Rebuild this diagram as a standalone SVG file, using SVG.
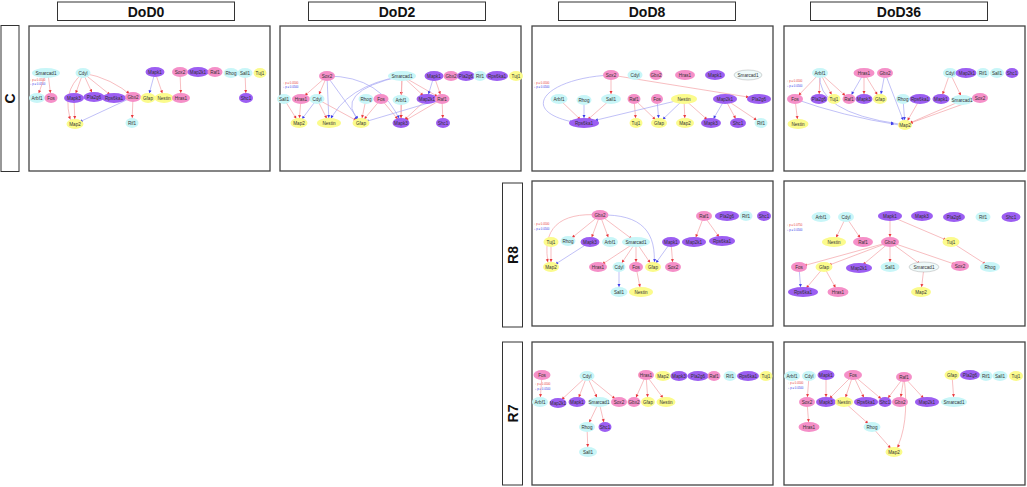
<svg xmlns="http://www.w3.org/2000/svg" width="1027" height="487" viewBox="0 0 1027 487">
<style>
.hb{fill:#fff;stroke:#333;stroke-width:1}
.ht{font-family:"Liberation Sans",Arial,sans-serif;font-weight:bold;font-size:14px;text-anchor:middle;fill:#111}
.pn{fill:#fff;stroke:#444;stroke-width:1.3}
.cy{fill:#c8f6f8}
.pk{fill:#f58fc8}
.pu{fill:#9c5ef2}
.ye{fill:#fbfb8c}
.lt{fill:#eefafa;stroke:#999;stroke-width:0.4}
text.n{font-family:"Liberation Sans",Arial,sans-serif;font-size:4.6px;text-anchor:middle;fill:#333}
.lg{font-family:"Liberation Sans",Arial,sans-serif;font-size:2.8px}
.up{stroke:#f4a2a6;stroke-width:0.7;fill:none;marker-end:url(#au)}
.dn{stroke:#a6a6f4;stroke-width:0.7;fill:none;marker-end:url(#ad)}
</style>
<defs>
<marker id="au" markerUnits="userSpaceOnUse" markerWidth="3" markerHeight="3" refX="8" refY="1.5" orient="auto" overflow="visible"><path d="M0,0L3,1.5L0,3z" fill="#e8363a"/></marker>
<marker id="ad" markerUnits="userSpaceOnUse" markerWidth="3" markerHeight="3" refX="8" refY="1.5" orient="auto" overflow="visible"><path d="M0,0L3,1.5L0,3z" fill="#3a3ae8"/></marker>
</defs>
<rect width="1027" height="487" fill="#fff"/>

<g id="headers">
<rect class="hb" x="57.5" y="2" width="177" height="18.5"/><text class="ht" x="146" y="16.5">DoD0</text>
<rect class="hb" x="308.5" y="2" width="177" height="18.5"/><text class="ht" x="397" y="16.5">DoD2</text>
<rect class="hb" x="558.5" y="2" width="177" height="18.5"/><text class="ht" x="647" y="16.5">DoD8</text>
<rect class="hb" x="810.5" y="2" width="177" height="18.5"/><text class="ht" x="899" y="16.5">DoD36</text>
<rect class="hb" x="1" y="25.5" width="18" height="146"/><text class="ht" transform="translate(15,98.5) rotate(-90)">C</text>
<rect class="hb" x="502.5" y="183" width="20" height="144"/><text class="ht" transform="translate(517.5,255) rotate(-90)">R8</text>
<rect class="hb" x="502.5" y="342" width="20" height="143"/><text class="ht" transform="translate(517.5,413.5) rotate(-90)">R7</text>
</g>

<g id="panels">
<rect class="pn" x="29" y="26" width="241" height="145"/>
<rect class="pn" x="280" y="26" width="241" height="145"/>
<rect class="pn" x="532" y="26" width="241" height="145"/>
<rect class="pn" x="784" y="26" width="241" height="145"/>
<rect class="pn" x="532" y="181" width="241" height="145"/>
<rect class="pn" x="784" y="181" width="241" height="145"/>
<rect class="pn" x="532" y="342" width="241" height="143"/>
<rect class="pn" x="784" y="342" width="241" height="143"/>
</g>

<g id="legends" class="lg">
<text x="30" y="81" fill="#e83a3a">↑ p ≤ 0.0500</text><text x="30" y="85" fill="#3a3ae8">↓ p ≤ 0.0500</text>
<text x="283" y="84" fill="#e83a3a">↑ p ≤ 0.0500</text><text x="283" y="88" fill="#3a3ae8">↓ p ≤ 0.0500</text>
<text x="534" y="84" fill="#e83a3a">↑ p ≤ 0.0500</text><text x="534" y="88" fill="#3a3ae8">↓ p ≤ 0.0500</text>
<text x="787" y="82" fill="#e83a3a">↑ p ≤ 0.0500</text><text x="787" y="87" fill="#3a3ae8">↓ p ≤ 0.0500</text>
<text x="534" y="225" fill="#e83a3a">↑ p ≤ 0.0500</text><text x="534" y="230" fill="#3a3ae8">↓ p ≤ 0.0500</text>
<text x="787" y="226" fill="#e83a3a">↑ p ≤ 0.0750</text><text x="787" y="231" fill="#3a3ae8">↓ p ≤ 0.0500</text>
<text x="535" y="385" fill="#e83a3a">↑ p ≤ 0.0500</text><text x="535" y="390" fill="#3a3ae8">↓ p ≤ 0.0500</text>
<text x="788" y="384" fill="#e83a3a">↑ p ≤ 0.0500</text><text x="788" y="389" fill="#3a3ae8">↓ p ≤ 0.0500</text>
</g>

<g id="connectors">
<g id="e-c-dod0">
<line class="up" x1="46" y1="73" x2="37" y2="98"/>
<line class="up" x1="48" y1="73" x2="51" y2="98"/>
<line class="up" x1="83" y1="73" x2="74" y2="98"/>
<line class="up" x1="83" y1="73" x2="94" y2="97"/>
<line class="up" x1="83" y1="73" x2="114" y2="98"/>
<path class="up" d="M83,73 Q112,78 133,97"/>
<path class="up" d="M83,73 Q60,92 72,124"/>
<line class="up" x1="74" y1="98" x2="75" y2="124"/>
<line class="dn" x1="133" y1="97" x2="75" y2="124"/>
<line class="up" x1="133" y1="97" x2="132" y2="123"/>
<line class="dn" x1="155" y1="72" x2="148" y2="98"/>
<line class="up" x1="155" y1="72" x2="164" y2="98"/>
<line class="up" x1="180" y1="72" x2="181" y2="98"/>
<line class="up" x1="245" y1="73" x2="246" y2="98"/>
</g>
<g id="e-c-dod2">
<line class="up" x1="327" y1="76" x2="301" y2="99"/>
<line class="up" x1="327" y1="76" x2="317" y2="99"/>
<line class="dn" x1="327" y1="76" x2="329" y2="123"/>
<line class="dn" x1="327" y1="76" x2="361" y2="123"/>
<path class="dn" d="M327,76 Q382,76 401,123"/>
<line class="up" x1="301" y1="99" x2="299" y2="123"/>
<line class="up" x1="284" y1="99" x2="299" y2="123"/>
<line class="dn" x1="317" y1="99" x2="299" y2="123"/>
<line class="up" x1="317" y1="99" x2="329" y2="123"/>
<line class="up" x1="317" y1="99" x2="361" y2="123"/>
<path class="dn" d="M402,76 Q345,86 329,123"/>
<path class="dn" d="M402,76 Q330,92 361,123"/>
<line class="up" x1="402" y1="76" x2="401" y2="100"/>
<line class="up" x1="402" y1="76" x2="427" y2="99"/>
<line class="up" x1="402" y1="76" x2="401" y2="123"/>
<line class="up" x1="402" y1="76" x2="442" y2="99"/>
<line class="dn" x1="434" y1="76" x2="427" y2="99"/>
<line class="up" x1="434" y1="76" x2="442" y2="99"/>
<line class="up" x1="366" y1="99" x2="361" y2="123"/>
<line class="up" x1="381" y1="99" x2="361" y2="123"/>
<line class="up" x1="381" y1="99" x2="401" y2="123"/>
<line class="up" x1="401" y1="100" x2="401" y2="123"/>
<line class="up" x1="427" y1="99" x2="401" y2="123"/>
<line class="up" x1="442" y1="99" x2="443" y2="123"/>
<line class="dn" x1="442" y1="99" x2="361" y2="123"/>
<line class="up" x1="442" y1="99" x2="401" y2="123"/>
</g>
<g id="e-c-dod8">
<line class="up" x1="611" y1="75" x2="611" y2="99"/>
<line class="up" x1="611" y1="75" x2="754" y2="98"/>
<path class="dn" d="M611,75 C545,78 515,112 578,123"/>
<line class="up" x1="559" y1="99" x2="584" y2="123"/>
<line class="dn" x1="584" y1="100" x2="584" y2="123"/>
<line class="up" x1="611" y1="99" x2="584" y2="123"/>
<line class="up" x1="634" y1="99" x2="636" y2="123"/>
<line class="up" x1="634" y1="99" x2="659" y2="123"/>
<line class="dn" x1="657" y1="99" x2="659" y2="123"/>
<line class="dn" x1="684" y1="99" x2="659" y2="123"/>
<line class="up" x1="684" y1="99" x2="685" y2="123"/>
<line class="up" x1="684" y1="99" x2="711" y2="123"/>
<line class="dn" x1="684" y1="99" x2="590" y2="121.6"/>
<line class="dn" x1="725" y1="99" x2="711" y2="123"/>
<line class="up" x1="725" y1="99" x2="738" y2="123"/>
<line class="up" x1="725" y1="99" x2="761" y2="123"/>
</g>
<g id="e-c-dod36">
<line class="up" x1="820" y1="73" x2="795" y2="99"/>
<line class="up" x1="820" y1="73" x2="819" y2="99"/>
<line class="up" x1="820" y1="73" x2="834" y2="99"/>
<line class="up" x1="820" y1="73" x2="849" y2="99"/>
<path class="dn" d="M820,73 Q815,112 899,124"/>
<path class="dn" d="M795,99 Q842,116 899,125"/>
<line class="dn" x1="864" y1="73" x2="849" y2="99"/>
<line class="up" x1="864" y1="73" x2="864" y2="99"/>
<line class="up" x1="864" y1="73" x2="880" y2="99"/>
<line class="dn" x1="885" y1="73" x2="880" y2="99"/>
<line class="dn" x1="885" y1="73" x2="905" y2="125"/>
<line class="up" x1="795" y1="99" x2="798" y2="124"/>
<line class="dn" x1="903" y1="99" x2="905" y2="125"/>
<line class="up" x1="920" y1="99" x2="905" y2="125"/>
<line class="up" x1="950" y1="73" x2="941" y2="99"/>
<line class="up" x1="950" y1="73" x2="963" y2="100"/>
<line class="up" x1="963" y1="100" x2="905" y2="125"/>
<line class="up" x1="980" y1="98" x2="905" y2="125"/>
</g>
<g id="e-r8-dod8">
<line class="up" x1="600" y1="215" x2="568" y2="241"/>
<line class="up" x1="600" y1="215" x2="590" y2="242"/>
<line class="up" x1="600" y1="215" x2="610" y2="242"/>
<line class="up" x1="600" y1="215" x2="636" y2="242"/>
<path class="up" d="M600,215 C560,212 540,228 549,267"/>
<path class="dn" d="M600,215 C642,214 657,232 654,267"/>
<line class="up" x1="551" y1="242" x2="551" y2="267"/>
<line class="dn" x1="590" y1="242" x2="551" y2="267"/>
<line class="up" x1="636" y1="242" x2="598" y2="267"/>
<line class="up" x1="636" y1="242" x2="619" y2="267"/>
<line class="up" x1="636" y1="242" x2="636" y2="267"/>
<line class="up" x1="636" y1="242" x2="653" y2="267"/>
<line class="dn" x1="619" y1="267" x2="619" y2="292"/>
<line class="up" x1="636" y1="267" x2="641" y2="292"/>
<line class="dn" x1="671" y1="242" x2="653" y2="267"/>
<line class="up" x1="671" y1="242" x2="673" y2="267"/>
<line class="up" x1="704" y1="216" x2="694" y2="242"/>
<line class="up" x1="704" y1="216" x2="722" y2="241"/>
</g>
<g id="e-r8-dod36">
<line class="up" x1="846" y1="217" x2="834" y2="242"/>
<line class="up" x1="846" y1="217" x2="863" y2="242"/>
<line class="up" x1="890" y1="216" x2="890" y2="242"/>
<line class="up" x1="890" y1="216" x2="951" y2="242"/>
<line class="up" x1="890" y1="242" x2="799" y2="267"/>
<line class="up" x1="890" y1="242" x2="824" y2="267"/>
<line class="up" x1="890" y1="242" x2="859" y2="268"/>
<line class="up" x1="890" y1="242" x2="890" y2="267"/>
<line class="up" x1="890" y1="242" x2="924" y2="267"/>
<line class="up" x1="890" y1="242" x2="960" y2="266"/>
<line class="up" x1="951" y1="242" x2="990" y2="267"/>
<line class="dn" x1="799" y1="267" x2="801" y2="292"/>
<line class="up" x1="824" y1="267" x2="803" y2="292"/>
<line class="up" x1="824" y1="267" x2="838" y2="292"/>
<line class="up" x1="924" y1="267" x2="921" y2="292"/>
</g>
<g id="e-r7-dod8">
<line class="up" x1="542" y1="375" x2="540" y2="402"/>
<line class="up" x1="587" y1="376" x2="558" y2="403"/>
<line class="up" x1="587" y1="376" x2="577" y2="402"/>
<line class="up" x1="587" y1="376" x2="599" y2="402"/>
<line class="up" x1="587" y1="376" x2="619" y2="402"/>
<line class="up" x1="646" y1="375" x2="634" y2="402"/>
<line class="up" x1="646" y1="375" x2="648" y2="402"/>
<line class="up" x1="646" y1="375" x2="666" y2="402"/>
<line class="up" x1="599" y1="402" x2="587" y2="427"/>
<line class="up" x1="599" y1="402" x2="605" y2="427"/>
<line class="up" x1="587" y1="427" x2="588" y2="452"/>
</g>
<g id="e-r7-dod36">
<line class="up" x1="809" y1="376" x2="807" y2="402"/>
<line class="up" x1="826" y1="375" x2="826" y2="402"/>
<line class="up" x1="853" y1="375" x2="826" y2="402"/>
<line class="up" x1="853" y1="375" x2="844" y2="402"/>
<line class="up" x1="853" y1="375" x2="866" y2="402"/>
<line class="up" x1="853" y1="375" x2="885" y2="402"/>
<line class="up" x1="904" y1="377" x2="885" y2="402"/>
<line class="up" x1="904" y1="377" x2="900" y2="402"/>
<line class="up" x1="904" y1="377" x2="927" y2="402"/>
<path class="up" d="M904,377 Q910,425 895,452"/>
<line class="up" x1="807" y1="402" x2="809" y2="427"/>
<line class="up" x1="844" y1="402" x2="872" y2="427"/>
<line class="up" x1="872" y1="427" x2="894" y2="452"/>
<line class="up" x1="952" y1="375" x2="954" y2="402"/>
</g>
</g>

<g id="nodes">
<g id="c-dod0">
<g id="c0-Smarcad1"><ellipse class="cy" cx="46" cy="73" rx="14" ry="5"/><text class="n" x="46" y="74.6">Smarcad1</text></g>
<g id="c0-Arbf1"><ellipse class="cy" cx="37" cy="98" rx="8" ry="5"/><text class="n" x="37" y="99.6">Arbf1</text></g>
<g id="c0-Fos"><ellipse class="pk" cx="51" cy="98" rx="6.5" ry="5"/><text class="n" x="51" y="99.6">Fos</text></g>
<g id="c0-Cdyl"><ellipse class="cy" cx="83" cy="73" rx="7.5" ry="5"/><text class="n" x="83" y="74.6">Cdyl</text></g>
<g id="c0-Mapk3"><ellipse class="pu" cx="74" cy="98" rx="10" ry="5"/><text class="n" x="74" y="99.6">Mapk3</text></g>
<g id="c0-Pla2g6"><ellipse class="pu" cx="94" cy="97" rx="10.5" ry="5"/><text class="n" x="94" y="98.6">Pla2g6</text></g>
<g id="c0-Rps6ka1"><ellipse class="pu" cx="114" cy="98" rx="12" ry="5"/><text class="n" x="114" y="99.6">Rps6ka1</text></g>
<g id="c0-Gbx2"><ellipse class="pk" cx="133" cy="97" rx="8" ry="5"/><text class="n" x="133" y="98.6">Gbx2</text></g>
<g id="c0-Gfap"><ellipse class="ye" cx="148" cy="98" rx="7.5" ry="5"/><text class="n" x="148" y="99.6">Gfap</text></g>
<g id="c0-Nestin"><ellipse class="ye" cx="164" cy="98" rx="9.5" ry="5"/><text class="n" x="164" y="99.6">Nestin</text></g>
<g id="c0-Mapk1"><ellipse class="pu" cx="155" cy="72" rx="9.5" ry="5"/><text class="n" x="155" y="73.6">Mapk1</text></g>
<g id="c0-Sox2"><ellipse class="pk" cx="180" cy="72" rx="8" ry="5"/><text class="n" x="180" y="73.6">Sox2</text></g>
<g id="c0-Map2k1"><ellipse class="pu" cx="198" cy="72" rx="10.5" ry="5"/><text class="n" x="198" y="73.6">Map2k1</text></g>
<g id="c0-Raf1"><ellipse class="pk" cx="215" cy="72" rx="7.5" ry="5"/><text class="n" x="215" y="73.6">Raf1</text></g>
<g id="c0-Rhog"><ellipse class="cy" cx="231" cy="73" rx="7.5" ry="5"/><text class="n" x="231" y="74.6">Rhog</text></g>
<g id="c0-Sall1"><ellipse class="cy" cx="245" cy="73" rx="7.5" ry="5"/><text class="n" x="245" y="74.6">Sall1</text></g>
<g id="c0-Tuj1"><ellipse class="ye" cx="260" cy="73" rx="6.5" ry="5"/><text class="n" x="260" y="74.6">Tuj1</text></g>
<g id="c0-Hras1"><ellipse class="pk" cx="181" cy="98" rx="9" ry="5"/><text class="n" x="181" y="99.6">Hras1</text></g>
<g id="c0-Shc1"><ellipse class="pu" cx="246" cy="98" rx="7" ry="5"/><text class="n" x="246" y="99.6">Shc1</text></g>
<g id="c0-Map2"><ellipse class="ye" cx="75" cy="124" rx="8.5" ry="5"/><text class="n" x="75" y="125.6">Map2</text></g>
<g id="c0-Rif1"><ellipse class="cy" cx="132" cy="123" rx="6.5" ry="5"/><text class="n" x="132" y="124.6">Rif1</text></g>
</g>

<g id="c-dod2">
<g id="c2-Sox2"><ellipse class="pk" cx="327" cy="76" rx="8" ry="5"/><text class="n" x="327" y="77.6">Sox2</text></g>
<g id="c2-Smarcad1"><ellipse class="cy" cx="402" cy="76" rx="14" ry="5"/><text class="n" x="402" y="77.6">Smarcad1</text></g>
<g id="c2-Mapk1"><ellipse class="pu" cx="434" cy="76" rx="9.5" ry="5"/><text class="n" x="434" y="77.6">Mapk1</text></g>
<g id="c2-Gbx2"><ellipse class="pk" cx="451" cy="76" rx="7.5" ry="5"/><text class="n" x="451" y="77.6">Gbx2</text></g>
<g id="c2-Pla2g6"><ellipse class="pu" cx="466" cy="76" rx="9" ry="5"/><text class="n" x="466" y="77.6">Pla2g6</text></g>
<g id="c2-Rif1"><ellipse class="cy" cx="480" cy="76" rx="6.5" ry="5"/><text class="n" x="480" y="77.6">Rif1</text></g>
<g id="c2-Rps6ka1"><ellipse class="pu" cx="497" cy="76" rx="11" ry="5"/><text class="n" x="497" y="77.6">Rps6ka1</text></g>
<g id="c2-Tuj1"><ellipse class="ye" cx="516" cy="76" rx="7" ry="5"/><text class="n" x="516" y="77.6">Tuj1</text></g>
<g id="c2-Sall1"><ellipse class="cy" cx="284" cy="99" rx="7" ry="5"/><text class="n" x="284" y="100.6">Sall1</text></g>
<g id="c2-Hras1"><ellipse class="pk" cx="301" cy="99" rx="9" ry="5"/><text class="n" x="301" y="100.6">Hras1</text></g>
<g id="c2-Cdyl"><ellipse class="cy" cx="317" cy="99" rx="7.5" ry="5"/><text class="n" x="317" y="100.6">Cdyl</text></g>
<g id="c2-Rhog"><ellipse class="cy" cx="366" cy="99" rx="7.5" ry="5"/><text class="n" x="366" y="100.6">Rhog</text></g>
<g id="c2-Fos"><ellipse class="pk" cx="381" cy="99" rx="7.5" ry="5"/><text class="n" x="381" y="100.6">Fos</text></g>
<g id="c2-Arbf1"><ellipse class="cy" cx="401" cy="100" rx="8.5" ry="5"/><text class="n" x="401" y="101.6">Arbf1</text></g>
<g id="c2-Map2k1"><ellipse class="pu" cx="427" cy="99" rx="10.5" ry="5"/><text class="n" x="427" y="100.6">Map2k1</text></g>
<g id="c2-Raf1"><ellipse class="pk" cx="442" cy="99" rx="7.5" ry="5"/><text class="n" x="442" y="100.6">Raf1</text></g>
<g id="c2-Map2"><ellipse class="ye" cx="299" cy="123" rx="8.5" ry="5"/><text class="n" x="299" y="124.6">Map2</text></g>
<g id="c2-Nestin"><ellipse class="ye" cx="329" cy="123" rx="12" ry="5"/><text class="n" x="329" y="124.6">Nestin</text></g>
<g id="c2-Gfap"><ellipse class="ye" cx="361" cy="123" rx="8.5" ry="5"/><text class="n" x="361" y="124.6">Gfap</text></g>
<g id="c2-Mapk3"><ellipse class="pu" cx="401" cy="123" rx="8.5" ry="5"/><text class="n" x="401" y="124.6">Mapk3</text></g>
<g id="c2-Shc1"><ellipse class="pu" cx="443" cy="123" rx="7" ry="5"/><text class="n" x="443" y="124.6">Shc1</text></g>
</g>

<g id="c-dod8">
<g id="c8-Sox2"><ellipse class="pk" cx="611" cy="75" rx="8" ry="5"/><text class="n" x="611" y="76.6">Sox2</text></g>
<g id="c8-Cdyl"><ellipse class="cy" cx="635" cy="75" rx="7.5" ry="5"/><text class="n" x="635" y="76.6">Cdyl</text></g>
<g id="c8-Gbx2"><ellipse class="pk" cx="656" cy="75" rx="6.5" ry="5"/><text class="n" x="656" y="76.6">Gbx2</text></g>
<g id="c8-Hras1"><ellipse class="pk" cx="685" cy="75" rx="10" ry="5"/><text class="n" x="685" y="76.6">Hras1</text></g>
<g id="c8-Mapk1"><ellipse class="pu" cx="715" cy="75" rx="10" ry="5"/><text class="n" x="715" y="76.6">Mapk1</text></g>
<g id="c8-Smarcad1"><ellipse class="lt" cx="748" cy="75" rx="14" ry="5"/><text class="n" x="748" y="76.6">Smarcad1</text></g>
<g id="c8-Arbf1"><ellipse class="cy" cx="559" cy="99" rx="8.5" ry="5"/><text class="n" x="559" y="100.6">Arbf1</text></g>
<g id="c8-Rhog"><ellipse class="cy" cx="584" cy="100" rx="7.5" ry="5"/><text class="n" x="584" y="101.6">Rhog</text></g>
<g id="c8-Sall1"><ellipse class="cy" cx="611" cy="99" rx="10" ry="5"/><text class="n" x="611" y="100.6">Sall1</text></g>
<g id="c8-Raf1"><ellipse class="pk" cx="634" cy="99" rx="6.5" ry="5"/><text class="n" x="634" y="100.6">Raf1</text></g>
<g id="c8-Fos"><ellipse class="pk" cx="657" cy="99" rx="6" ry="5"/><text class="n" x="657" y="100.6">Fos</text></g>
<g id="c8-Nestin"><ellipse class="ye" cx="684" cy="99" rx="13" ry="5"/><text class="n" x="684" y="100.6">Nestin</text></g>
<g id="c8-Map2k1"><ellipse class="pu" cx="725" cy="99" rx="12" ry="5"/><text class="n" x="725" y="100.6">Map2k1</text></g>
<g id="c8-Pla2g6"><ellipse class="pu" cx="759" cy="99" rx="12" ry="5"/><text class="n" x="759" y="100.6">Pla2g6</text></g>
<g id="c8-Rps6ka1"><ellipse class="pu" cx="584" cy="123" rx="15" ry="5"/><text class="n" x="584" y="124.6">Rps6ka1</text></g>
<g id="c8-Tuj1"><ellipse class="ye" cx="636" cy="123" rx="6.5" ry="5"/><text class="n" x="636" y="124.6">Tuj1</text></g>
<g id="c8-Gfap"><ellipse class="ye" cx="659" cy="123" rx="8" ry="5"/><text class="n" x="659" y="124.6">Gfap</text></g>
<g id="c8-Map2"><ellipse class="ye" cx="685" cy="123" rx="9" ry="5"/><text class="n" x="685" y="124.6">Map2</text></g>
<g id="c8-Mapk3"><ellipse class="pu" cx="711" cy="123" rx="10" ry="5"/><text class="n" x="711" y="124.6">Mapk3</text></g>
<g id="c8-Shc1"><ellipse class="pu" cx="738" cy="123" rx="8" ry="5"/><text class="n" x="738" y="124.6">Shc1</text></g>
<g id="c8-Rif1"><ellipse class="cy" cx="761" cy="123" rx="6.5" ry="5"/><text class="n" x="761" y="124.6">Rif1</text></g>
</g>

<g id="c-dod36">
<g id="c36-Arbf1"><ellipse class="cy" cx="820" cy="73" rx="8" ry="5"/><text class="n" x="820" y="74.6">Arbf1</text></g>
<g id="c36-Hras1"><ellipse class="pk" cx="864" cy="73" rx="10.5" ry="5"/><text class="n" x="864" y="74.6">Hras1</text></g>
<g id="c36-Gbx2"><ellipse class="pk" cx="885" cy="73" rx="8" ry="5"/><text class="n" x="885" y="74.6">Gbx2</text></g>
<g id="c36-Cdyl"><ellipse class="cy" cx="950" cy="73" rx="7" ry="5"/><text class="n" x="950" y="74.6">Cdyl</text></g>
<g id="c36-Map2k1"><ellipse class="pu" cx="966" cy="73" rx="10.5" ry="5"/><text class="n" x="967" y="74.6">Map2k1</text></g>
<g id="c36-Rif1"><ellipse class="cy" cx="983" cy="73" rx="6.5" ry="5"/><text class="n" x="983" y="74.6">Rif1</text></g>
<g id="c36-Sall1"><ellipse class="cy" cx="997" cy="73" rx="7" ry="5"/><text class="n" x="997" y="74.6">Sall1</text></g>
<g id="c36-Shc1"><ellipse class="pu" cx="1012" cy="73" rx="6.5" ry="5"/><text class="n" x="1012" y="74.6">Shc1</text></g>
<g id="c36-Fos"><ellipse class="pk" cx="795" cy="99" rx="8" ry="5"/><text class="n" x="795" y="100.6">Fos</text></g>
<g id="c36-Pla2g6"><ellipse class="pu" cx="819" cy="99" rx="8.5" ry="5"/><text class="n" x="819" y="100.6">Pla2g6</text></g>
<g id="c36-Tuj1"><ellipse class="ye" cx="834" cy="99" rx="6.5" ry="5"/><text class="n" x="834" y="100.6">Tuj1</text></g>
<g id="c36-Raf1"><ellipse class="pk" cx="849" cy="99" rx="6.5" ry="5"/><text class="n" x="849" y="100.6">Raf1</text></g>
<g id="c36-Mapk3"><ellipse class="pu" cx="864" cy="99" rx="8.5" ry="5"/><text class="n" x="864" y="100.6">Mapk3</text></g>
<g id="c36-Gfap"><ellipse class="ye" cx="880" cy="99" rx="7" ry="5"/><text class="n" x="880" y="100.6">Gfap</text></g>
<g id="c36-Rhog"><ellipse class="cy" cx="903" cy="99" rx="7" ry="5"/><text class="n" x="903" y="100.6">Rhog</text></g>
<g id="c36-Rps6ka1"><ellipse class="pu" cx="920" cy="99" rx="10.5" ry="5"/><text class="n" x="920" y="100.6">Rps6ka1</text></g>
<g id="c36-Mapk1"><ellipse class="pu" cx="941" cy="99" rx="8.5" ry="5"/><text class="n" x="941" y="100.6">Mapk1</text></g>
<g id="c36-Smarcad1"><ellipse class="cy" cx="962" cy="100" rx="11" ry="5"/><text class="n" x="962" y="101.6">Smarcad1</text></g>
<g id="c36-Sox2"><ellipse class="pk" cx="980" cy="98" rx="8" ry="5"/><text class="n" x="980" y="99.6">Sox2</text></g>
<g id="c36-Nestin"><ellipse class="ye" cx="798" cy="124" rx="10.5" ry="5"/><text class="n" x="798" y="125.6">Nestin</text></g>
<g id="c36-Map2"><ellipse class="ye" cx="905" cy="125" rx="7" ry="5"/><text class="n" x="905" y="126.6">Map2</text></g>
</g>

<g id="r8-dod8">
<g id="r88-Gbx2"><ellipse class="pk" cx="600" cy="215" rx="8.5" ry="5"/><text class="n" x="600" y="216.6">Gbx2</text></g>
<g id="r88-Raf1"><ellipse class="pk" cx="704" cy="216" rx="8" ry="5"/><text class="n" x="704" y="217.6">Raf1</text></g>
<g id="r88-Pla2g6"><ellipse class="pu" cx="727" cy="216" rx="12" ry="5"/><text class="n" x="727" y="217.6">Pla2g6</text></g>
<g id="r88-Rif1"><ellipse class="cy" cx="746" cy="216" rx="6.5" ry="5"/><text class="n" x="746" y="217.6">Rif1</text></g>
<g id="r88-Shc1"><ellipse class="pu" cx="764" cy="216" rx="7" ry="5"/><text class="n" x="764" y="217.6">Shc1</text></g>
<g id="r88-Tuj1"><ellipse class="ye" cx="551" cy="242" rx="7.5" ry="5"/><text class="n" x="551" y="243.6">Tuj1</text></g>
<g id="r88-Rhog"><ellipse class="cy" cx="568" cy="241" rx="7.5" ry="5"/><text class="n" x="568" y="242.6">Rhog</text></g>
<g id="r88-Mapk3"><ellipse class="pu" cx="590" cy="242" rx="9.5" ry="5"/><text class="n" x="590" y="243.6">Mapk3</text></g>
<g id="r88-Arbf1"><ellipse class="cy" cx="610" cy="242" rx="8" ry="5"/><text class="n" x="610" y="243.6">Arbf1</text></g>
<g id="r88-Smarcad1"><ellipse class="cy" cx="636" cy="242" rx="14" ry="5"/><text class="n" x="636" y="243.6">Smarcad1</text></g>
<g id="r88-Mapk1"><ellipse class="pu" cx="671" cy="242" rx="9" ry="5"/><text class="n" x="671" y="243.6">Mapk1</text></g>
<g id="r88-Map2k1"><ellipse class="pu" cx="694" cy="242" rx="12" ry="5"/><text class="n" x="694" y="243.6">Map2k1</text></g>
<g id="r88-Rps6ka1"><ellipse class="pu" cx="722" cy="241" rx="13" ry="5"/><text class="n" x="722" y="242.6">Rps6ka1</text></g>
<g id="r88-Map2"><ellipse class="ye" cx="551" cy="267" rx="8" ry="5"/><text class="n" x="551" y="268.6">Map2</text></g>
<g id="r88-Hras1"><ellipse class="pk" cx="598" cy="267" rx="9" ry="5"/><text class="n" x="598" y="268.6">Hras1</text></g>
<g id="r88-Cdyl"><ellipse class="cy" cx="619" cy="267" rx="6.5" ry="5"/><text class="n" x="619" y="268.6">Cdyl</text></g>
<g id="r88-Fos"><ellipse class="pk" cx="636" cy="267" rx="7" ry="5"/><text class="n" x="636" y="268.6">Fos</text></g>
<g id="r88-Gfap"><ellipse class="ye" cx="653" cy="267" rx="8" ry="5"/><text class="n" x="653" y="268.6">Gfap</text></g>
<g id="r88-Sox2"><ellipse class="pk" cx="673" cy="267" rx="8" ry="5"/><text class="n" x="673" y="268.6">Sox2</text></g>
<g id="r88-Sall1"><ellipse class="cy" cx="619" cy="292" rx="8.5" ry="5"/><text class="n" x="619" y="293.6">Sall1</text></g>
<g id="r88-Nestin"><ellipse class="ye" cx="641" cy="292" rx="12" ry="5"/><text class="n" x="641" y="293.6">Nestin</text></g>
</g>

<g id="r8-dod36">
<g id="r836-Arbf1"><ellipse class="cy" cx="821" cy="217" rx="9.5" ry="5"/><text class="n" x="821" y="218.6">Arbf1</text></g>
<g id="r836-Cdyl"><ellipse class="cy" cx="846" cy="217" rx="8" ry="5"/><text class="n" x="846" y="218.6">Cdyl</text></g>
<g id="r836-Mapk1"><ellipse class="pu" cx="890" cy="216" rx="12" ry="5"/><text class="n" x="890" y="217.6">Mapk1</text></g>
<g id="r836-Mapk3"><ellipse class="pu" cx="922" cy="216" rx="11" ry="5"/><text class="n" x="922" y="217.6">Mapk3</text></g>
<g id="r836-Pla2g6"><ellipse class="pu" cx="954" cy="217" rx="11" ry="5"/><text class="n" x="954" y="218.6">Pla2g6</text></g>
<g id="r836-Rif1"><ellipse class="cy" cx="983" cy="217" rx="7.5" ry="5"/><text class="n" x="983" y="218.6">Rif1</text></g>
<g id="r836-Shc1"><ellipse class="pu" cx="1011" cy="217" rx="9.5" ry="5"/><text class="n" x="1011" y="218.6">Shc1</text></g>
<g id="r836-Nestin"><ellipse class="ye" cx="834" cy="242" rx="12" ry="5"/><text class="n" x="834" y="243.6">Nestin</text></g>
<g id="r836-Raf1"><ellipse class="pk" cx="863" cy="242" rx="10" ry="5"/><text class="n" x="863" y="243.6">Raf1</text></g>
<g id="r836-Gbx2"><ellipse class="pk" cx="890" cy="242" rx="9" ry="5"/><text class="n" x="890" y="243.6">Gbx2</text></g>
<g id="r836-Tuj1"><ellipse class="ye" cx="951" cy="242" rx="8.5" ry="5"/><text class="n" x="951" y="243.6">Tuj1</text></g>
<g id="r836-Fos"><ellipse class="pk" cx="799" cy="267" rx="8" ry="5"/><text class="n" x="799" y="268.6">Fos</text></g>
<g id="r836-Gfap"><ellipse class="ye" cx="824" cy="267" rx="8.5" ry="5"/><text class="n" x="824" y="268.6">Gfap</text></g>
<g id="r836-Map2k1"><ellipse class="pu" cx="859" cy="268" rx="13" ry="5"/><text class="n" x="859" y="269.6">Map2k1</text></g>
<g id="r836-Sall1"><ellipse class="cy" cx="890" cy="267" rx="9.5" ry="5"/><text class="n" x="890" y="268.6">Sall1</text></g>
<g id="r836-Smarcad1"><ellipse class="lt" cx="924" cy="267" rx="15" ry="5"/><text class="n" x="924" y="268.6">Smarcad1</text></g>
<g id="r836-Sox2"><ellipse class="pk" cx="960" cy="266" rx="9" ry="5"/><text class="n" x="960" y="267.6">Sox2</text></g>
<g id="r836-Rhog"><ellipse class="cy" cx="990" cy="267" rx="10" ry="5"/><text class="n" x="990" y="268.6">Rhog</text></g>
<g id="r836-Rps6ka1"><ellipse class="pu" cx="803" cy="292" rx="15" ry="5"/><text class="n" x="803" y="293.6">Rps6ka1</text></g>
<g id="r836-Hras1"><ellipse class="pk" cx="838" cy="292" rx="10.5" ry="5"/><text class="n" x="838" y="293.6">Hras1</text></g>
<g id="r836-Map2"><ellipse class="ye" cx="921" cy="292" rx="10" ry="5"/><text class="n" x="921" y="293.6">Map2</text></g>
</g>

<g id="r7-dod8">
<g id="r78-Fos"><ellipse class="pk" cx="542" cy="375" rx="8.5" ry="5"/><text class="n" x="542" y="376.6">Fos</text></g>
<g id="r78-Cdyl"><ellipse class="cy" cx="587" cy="376" rx="7.5" ry="5"/><text class="n" x="587" y="377.6">Cdyl</text></g>
<g id="r78-Hras1"><ellipse class="pk" cx="646" cy="375" rx="8" ry="5"/><text class="n" x="646" y="376.6">Hras1</text></g>
<g id="r78-Map2"><ellipse class="ye" cx="663" cy="376" rx="8" ry="5"/><text class="n" x="663" y="377.6">Map2</text></g>
<g id="r78-Mapk3"><ellipse class="pu" cx="679" cy="376" rx="8.5" ry="5"/><text class="n" x="679" y="377.6">Mapk3</text></g>
<g id="r78-Pla2g6"><ellipse class="pu" cx="698" cy="376" rx="10.5" ry="5"/><text class="n" x="698" y="377.6">Pla2g6</text></g>
<g id="r78-Raf1"><ellipse class="pk" cx="714" cy="376" rx="6.5" ry="5"/><text class="n" x="714" y="377.6">Raf1</text></g>
<g id="r78-Rif1"><ellipse class="cy" cx="730" cy="376" rx="6.5" ry="5"/><text class="n" x="730" y="377.6">Rif1</text></g>
<g id="r78-Rps6ka1"><ellipse class="pu" cx="748" cy="376" rx="11" ry="5"/><text class="n" x="748" y="377.6">Rps6ka1</text></g>
<g id="r78-Tuj1"><ellipse class="ye" cx="766" cy="376" rx="6.5" ry="5"/><text class="n" x="766" y="377.6">Tuj1</text></g>
<g id="r78-Arbf1"><ellipse class="cy" cx="540" cy="402" rx="8" ry="5"/><text class="n" x="540" y="403.6">Arbf1</text></g>
<g id="r78-Map2k1"><ellipse class="pu" cx="558" cy="403" rx="8.5" ry="5"/><text class="n" x="558" y="404.6">Map2k1</text></g>
<g id="r78-Mapk1"><ellipse class="pu" cx="577" cy="402" rx="8.5" ry="5"/><text class="n" x="577" y="403.6">Mapk1</text></g>
<g id="r78-Smarcad1"><ellipse class="cy" cx="599" cy="402" rx="11" ry="5"/><text class="n" x="599" y="403.6">Smarcad1</text></g>
<g id="r78-Sox2"><ellipse class="pk" cx="619" cy="402" rx="8" ry="5"/><text class="n" x="619" y="403.6">Sox2</text></g>
<g id="r78-Gbx2"><ellipse class="pk" cx="634" cy="402" rx="6.5" ry="5"/><text class="n" x="634" y="403.6">Gbx2</text></g>
<g id="r78-Gfap"><ellipse class="ye" cx="648" cy="402" rx="7" ry="5"/><text class="n" x="648" y="403.6">Gfap</text></g>
<g id="r78-Nestin"><ellipse class="ye" cx="666" cy="402" rx="9.5" ry="5"/><text class="n" x="666" y="403.6">Nestin</text></g>
<g id="r78-Rhog"><ellipse class="cy" cx="587" cy="427" rx="8" ry="5"/><text class="n" x="587" y="428.6">Rhog</text></g>
<g id="r78-Shc1"><ellipse class="pu" cx="605" cy="427" rx="6.5" ry="5"/><text class="n" x="605" y="428.6">Shc1</text></g>
<g id="r78-Sall1"><ellipse class="cy" cx="588" cy="452" rx="9" ry="5"/><text class="n" x="588" y="453.6">Sall1</text></g>
</g>

<g id="r7-dod36">
<g id="r736-Arbf1"><ellipse class="cy" cx="792" cy="376" rx="8" ry="5"/><text class="n" x="792" y="377.6">Arbf1</text></g>
<g id="r736-Cdyl"><ellipse class="cy" cx="809" cy="376" rx="7" ry="5"/><text class="n" x="809" y="377.6">Cdyl</text></g>
<g id="r736-Mapk1"><ellipse class="pu" cx="826" cy="375" rx="8.5" ry="5"/><text class="n" x="826" y="376.6">Mapk1</text></g>
<g id="r736-Fos"><ellipse class="pk" cx="853" cy="375" rx="9" ry="5"/><text class="n" x="853" y="376.6">Fos</text></g>
<g id="r736-Raf1"><ellipse class="pk" cx="904" cy="377" rx="8" ry="5"/><text class="n" x="904" y="378.6">Raf1</text></g>
<g id="r736-Gfap"><ellipse class="ye" cx="952" cy="375" rx="7.5" ry="5"/><text class="n" x="952" y="376.6">Gfap</text></g>
<g id="r736-Pla2g6"><ellipse class="pu" cx="970" cy="375" rx="10" ry="5"/><text class="n" x="970" y="376.6">Pla2g6</text></g>
<g id="r736-Rif1"><ellipse class="cy" cx="986" cy="376" rx="6.5" ry="5"/><text class="n" x="986" y="377.6">Rif1</text></g>
<g id="r736-Sall1"><ellipse class="cy" cx="1000" cy="376" rx="7.5" ry="5"/><text class="n" x="1000" y="377.6">Sall1</text></g>
<g id="r736-Tuj1"><ellipse class="ye" cx="1016" cy="376" rx="7" ry="5"/><text class="n" x="1016" y="377.6">Tuj1</text></g>
<g id="r736-Sox2"><ellipse class="pk" cx="807" cy="402" rx="8" ry="5"/><text class="n" x="807" y="403.6">Sox2</text></g>
<g id="r736-Mapk3"><ellipse class="pu" cx="826" cy="402" rx="10" ry="5"/><text class="n" x="826" y="403.6">Mapk3</text></g>
<g id="r736-Nestin"><ellipse class="ye" cx="844" cy="402" rx="9" ry="5"/><text class="n" x="844" y="403.6">Nestin</text></g>
<g id="r736-Rps6ka1"><ellipse class="pu" cx="866" cy="402" rx="12" ry="5"/><text class="n" x="866" y="403.6">Rps6ka1</text></g>
<g id="r736-Shc1"><ellipse class="pu" cx="885" cy="402" rx="6.5" ry="5"/><text class="n" x="885" y="403.6">Shc1</text></g>
<g id="r736-Gbx2"><ellipse class="pk" cx="900" cy="402" rx="8" ry="5"/><text class="n" x="900" y="403.6">Gbx2</text></g>
<g id="r736-Map2k1"><ellipse class="pu" cx="927" cy="402" rx="12" ry="5"/><text class="n" x="927" y="403.6">Map2k1</text></g>
<g id="r736-Smarcad1"><ellipse class="cy" cx="954" cy="402" rx="13" ry="5"/><text class="n" x="954" y="403.6">Smarcad1</text></g>
<g id="r736-Hras1"><ellipse class="pk" cx="809" cy="427" rx="10.5" ry="5"/><text class="n" x="809" y="428.6">Hras1</text></g>
<g id="r736-Rhog"><ellipse class="cy" cx="872" cy="427" rx="8.5" ry="5"/><text class="n" x="872" y="428.6">Rhog</text></g>
<g id="r736-Map2"><ellipse class="ye" cx="894" cy="452" rx="8.5" ry="5"/><text class="n" x="894" y="453.6">Map2</text></g>
</g>
</g>
</svg>
